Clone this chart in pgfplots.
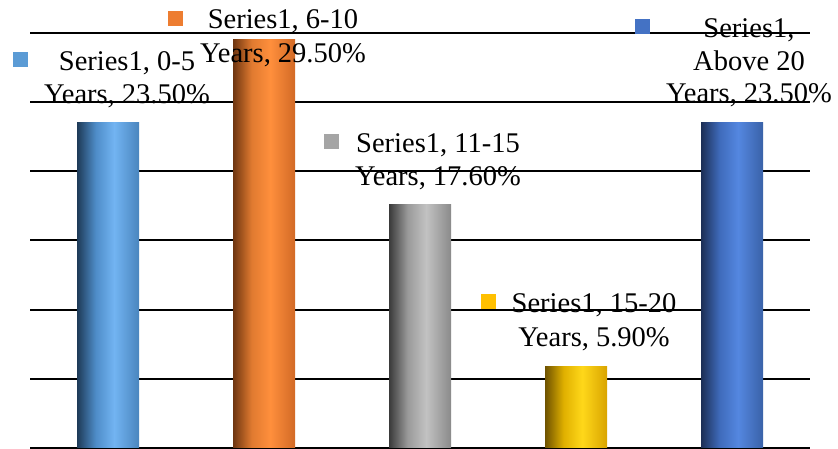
\documentclass[border=0pt]{standalone}
\usepackage{pgfplots}
\pgfplotsset{compat=1.18}
\usepackage{fontspec}
\setmainfont{Liberation Serif}

\definecolor{aA}{HTML}{1E3A57}\definecolor{aB}{HTML}{4E8CC8}\definecolor{aC}{HTML}{72B4F2}\definecolor{aD}{HTML}{4A85BE}
\definecolor{bA}{HTML}{6E3510}\definecolor{bB}{HTML}{E07A30}\definecolor{bC}{HTML}{FF8F3C}\definecolor{bD}{HTML}{D26A26}
\definecolor{cA}{HTML}{3A3A3A}\definecolor{cB}{HTML}{9A9A9A}\definecolor{cC}{HTML}{C2C2C2}\definecolor{cD}{HTML}{8A8A8A}
\definecolor{dA}{HTML}{6E5200}\definecolor{dB}{HTML}{E0B000}\definecolor{dC}{HTML}{FFD81A}\definecolor{dD}{HTML}{D9A400}
\definecolor{eA}{HTML}{1C2E55}\definecolor{eB}{HTML}{3F6BBB}\definecolor{eC}{HTML}{5487E0}\definecolor{eD}{HTML}{3A62A8}

\definecolor{k1}{HTML}{5B9BD5}
\definecolor{k2}{HTML}{ED7D31}
\definecolor{k3}{HTML}{A5A5A5}
\definecolor{k4}{HTML}{FFC000}
\definecolor{k5}{HTML}{4472C4}

\pgfdeclarehorizontalshading{shA}{100bp}{color(0bp)=(aA); color(25bp)=(aA); color(40bp)=(aB); color(55bp)=(aC); color(75bp)=(aD); color(100bp)=(aD)}
\pgfdeclarehorizontalshading{shB}{100bp}{color(0bp)=(bA); color(25bp)=(bA); color(40bp)=(bB); color(55bp)=(bC); color(75bp)=(bD); color(100bp)=(bD)}
\pgfdeclarehorizontalshading{shC}{100bp}{color(0bp)=(cA); color(25bp)=(cA); color(40bp)=(cB); color(55bp)=(cC); color(75bp)=(cD); color(100bp)=(cD)}
\pgfdeclarehorizontalshading{shD}{100bp}{color(0bp)=(dA); color(25bp)=(dA); color(40bp)=(dB); color(55bp)=(dC); color(75bp)=(dD); color(100bp)=(dD)}
\pgfdeclarehorizontalshading{shE}{100bp}{color(0bp)=(eA); color(25bp)=(eA); color(40bp)=(eB); color(55bp)=(eC); color(75bp)=(eD); color(100bp)=(eD)}

\newcommand{\lf}{\fontsize{28.5}{33}\selectfont}
\newcommand{\key}[1]{\textcolor{#1}{\rule{15pt}{15pt}}}

\begin{document}
\begin{tikzpicture}[x=1pt,y=1pt]
\begin{axis}[
  at={(0pt,0pt)}, anchor=south west,
  scale only axis, width=780pt, height=415pt,
  xmin=-0.5, xmax=4.5, ymin=0, ymax=30,
  axis line style={draw=none},
  xtick=\empty,
  ytick={5,10,15,20,25,30},
  yticklabels={},
  tick style={draw=none},
  ymajorgrids,
  major grid style={black, line width=2pt},
  extra y ticks={0},
  extra y tick labels={},
  extra y tick style={grid style={color=black!35, line width=1.5pt}},
  clip=false,
]
\addplot[ybar, bar width=62pt, bar shift=0pt, draw=none, shading=shA] coordinates {(0,23.5)};
\addplot[ybar, bar width=62pt, bar shift=0pt, draw=none, shading=shB] coordinates {(1,29.5)};
\addplot[ybar, bar width=62pt, bar shift=0pt, draw=none, shading=shC] coordinates {(2,17.6)};
\addplot[ybar, bar width=62pt, bar shift=0pt, draw=none, shading=shD] coordinates {(3,5.9)};
\addplot[ybar, bar width=62pt, bar shift=0pt, draw=none, shading=shE] coordinates {(4,23.5)};
\end{axis}

% label 1
\node[anchor=south east, inner sep=0] at (-2,381) {\key{k1}};
\node[anchor=base, inner sep=0, font=\lf] at (97,377) {Series1, 0-5};
\node[anchor=base, inner sep=0, font=\lf] at (97,344) {Years, 23.50\%};
% label 2
\node[anchor=south east, inner sep=0] at (153,422) {\key{k2}};
\node[anchor=base, inner sep=0, font=\lf] at (253,419) {Series1, 6-10};
\node[anchor=base, inner sep=0, font=\lf] at (253,385) {Years, 29.50\%};
% label 3
\node[anchor=south east, inner sep=0] at (309,299) {\key{k3}};
\node[anchor=base, inner sep=0, font=\lf] at (408,295) {Series1, 11-15};
\node[anchor=base, inner sep=0, font=\lf] at (408,262) {Years, 17.60\%};
% label 4
\node[anchor=south east, inner sep=0] at (466,139) {\key{k4}};
\node[anchor=base, inner sep=0, font=\lf] at (564,135) {Series1, 15-20};
\node[anchor=base, inner sep=0, font=\lf] at (564,101) {Years, 5.90\%};
% label 5
\node[anchor=south east, inner sep=0] at (620,414) {\key{k5}};
\node[anchor=base, inner sep=0, font=\lf] at (719,410) {Series1,};
\node[anchor=base, inner sep=0, font=\lf] at (719,377) {Above 20};
\node[anchor=base, inner sep=0, font=\lf] at (719,345) {Years, 23.50\%};

\pgfresetboundingbox
\path[use as bounding box] (-30,-1) rectangle (808,448);
\end{tikzpicture}
\end{document}
